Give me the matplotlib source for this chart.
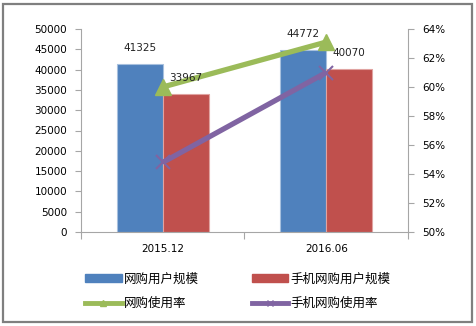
import matplotlib.pyplot as plt
from matplotlib.patches import Rectangle
from matplotlib.lines import Line2D
import numpy as np

plt.rcParams['font.family'] = ['DejaVu Sans', 'Noto Sans CJK SC']

# data
periods = ['2015.12', '2016.06']
users = [41325, 44772]          # 网购用户规模 (万人)
mobile_users = [33967, 40070]   # 手机网购用户规模 (万人)
rate = [60.0, 63.1]             # 网购使用率 (%)
mobile_rate = [54.8, 61.0]      # 手机网购使用率 (%)

blue = '#4F81BD'
red = '#C0504D'
green = '#9BBB59'
purple = '#8064A2'
axis_gray = '#A6A6A6'

fig = plt.figure(figsize=(4.77, 3.26), dpi=100)
W, H = 477, 326

# outer frame
fig.patches.append(Rectangle((3.5 / W, 4 / H), 469 / W, 318 / H, transform=fig.transFigure,
                             fill=False, edgecolor='#7F7F7F', linewidth=1.6))

ax = fig.add_axes([81 / W, (H - 232) / H, 327 / W, 203 / H])
x = np.arange(len(periods))
bw = 0.28
b1 = ax.bar(x - bw / 2, users, bw, color=blue, edgecolor='#A7C0DE', linewidth=0.8, zorder=2)
b2 = ax.bar(x + bw / 2, mobile_users, bw, color=red, edgecolor='#E0A3A1', linewidth=0.8, zorder=2)

ax.set_xlim(-0.5, 1.5)
ax.set_ylim(0, 50000)
ax.set_yticks(range(0, 50001, 5000))
ax.set_xticks([-0.5, 0.5, 1.5])
ax.set_xticklabels([])
ax.set_xticks(x, minor=True)
ax.set_xticklabels(periods, minor=True)
ax.tick_params(axis='x', which='major', length=5, color=axis_gray)
ax.tick_params(axis='x', which='minor', length=0, pad=9, labelsize=7.5)
ax.tick_params(axis='y', length=4, color=axis_gray, labelsize=7.5, pad=6)
for s in ['top', 'right']:
    ax.spines[s].set_visible(False)
for s in ['left', 'bottom']:
    ax.spines[s].set_color(axis_gray)

ax2 = ax.twinx()
l1, = ax2.plot(x, rate, color=green, linewidth=3.8, marker='^', markersize=11,
               solid_capstyle='butt', zorder=3)
l2, = ax2.plot(x, mobile_rate, color=purple, linewidth=3.8, marker='x', markersize=10,
               markeredgewidth=1.5, solid_capstyle='butt', zorder=3)
ax2.set_ylim(50, 64)
ax2.set_yticks(range(50, 65, 2))
ax2.set_yticklabels([f'{v}%' for v in range(50, 65, 2)])
ax2.tick_params(axis='y', length=4, color=axis_gray, labelsize=7.5, pad=6)
for s in ['top', 'left', 'bottom']:
    ax2.spines[s].set_visible(False)
ax2.spines['right'].set_color(axis_gray)

# bar value labels, drawn on the top axes so the lines don't cover them
for xs, vals in [(x - bw / 2, users), (x + bw / 2, mobile_users)]:
    for xi, v in zip(xs, vals):
        ax2.annotate(str(v), (xi, v), xycoords=ax.transData, xytext=(0, 11.5),
                     textcoords='offset points', ha='center', va='center',
                     fontsize=7.5, color='#222222', zorder=5)

# legend
h1 = Rectangle((0, 0), 1, 1, color=blue)
h2 = Rectangle((0, 0), 1, 1, color=red)
h3 = Line2D([], [], color=green, linewidth=3.5, marker='^', markersize=5)
h4 = Line2D([], [], color=purple, linewidth=3.5, marker='x', markersize=5)
fig.legend([h1, h3, h2, h4], ['网购用户规模', '网购使用率', '手机网购用户规模', '手机网购使用率'],
           ncol=2, loc='upper left', bbox_to_anchor=(74 / W, 1 - 261 / H),
           frameon=False, handlelength=2.9, handleheight=0.6, handletextpad=0.2,
           columnspacing=4.2, labelspacing=0.95,
           prop={'family': ['Noto Sans CJK SC', 'DejaVu Sans'], 'size': 9})

fig.savefig('out.png', dpi=100)
